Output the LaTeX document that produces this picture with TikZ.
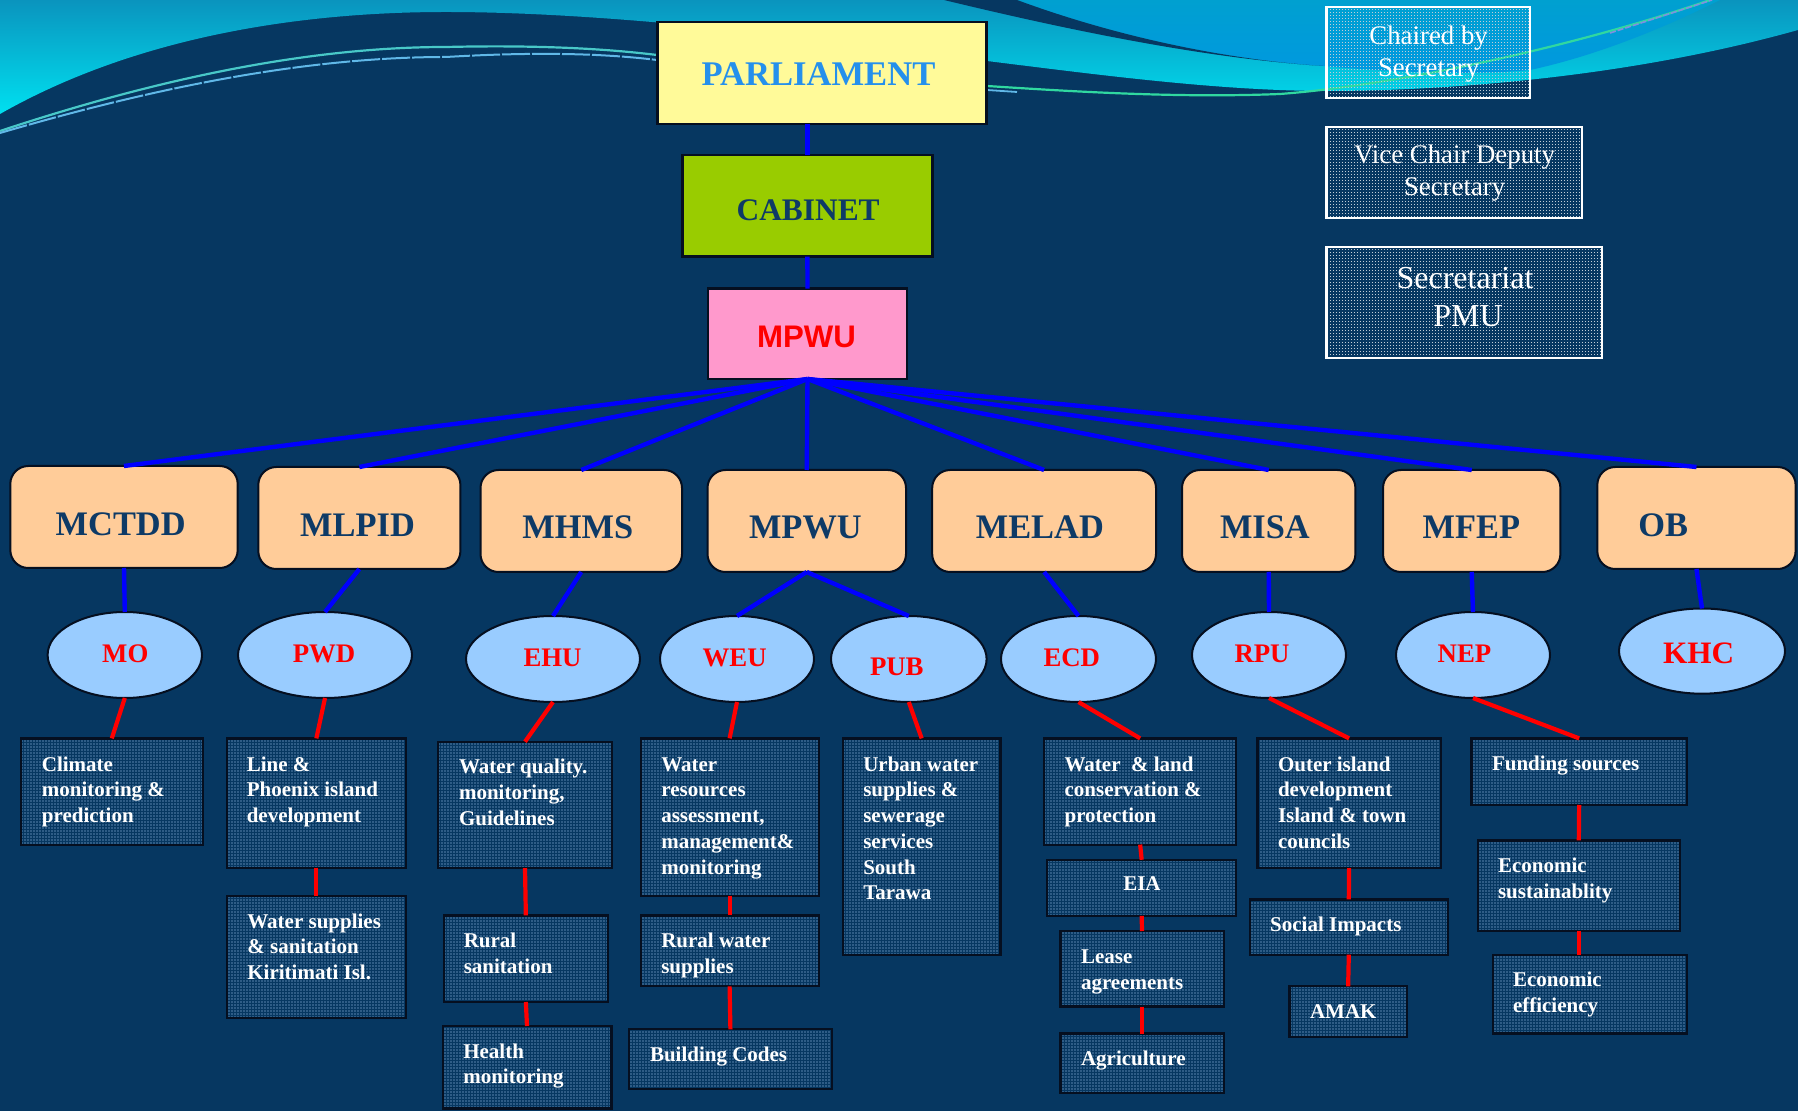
\documentclass[tikz,border=0pt]{standalone}
\usepackage{fontspec}
\setmainfont{Liberation Serif}
\newfontfamily\arialfont{Liberation Sans}
\usetikzlibrary{shapes.geometric,patterns}
\definecolor{bgnavy}{HTML}{063761}
\definecolor{inknavy}{HTML}{0E3A66}
\definecolor{edgedark}{HTML}{050F20}
\definecolor{dotcol}{HTML}{2E5C86}
\definecolor{parlblue}{HTML}{2590EC}
\definecolor{limeg}{HTML}{99CC00}
\definecolor{pinkb}{HTML}{FF99CC}
\definecolor{peach}{HTML}{FFCC99}
\definecolor{skyb}{HTML}{99CCFF}
\definecolor{leftTop}{HTML}{0A94BE}
\definecolor{leftBot}{HTML}{00E0F0}
\definecolor{blueTop}{HTML}{00A0D0}
\definecolor{blueBot}{HTML}{0098E0}
\definecolor{teal1}{HTML}{48C8C8}
\definecolor{sky1}{HTML}{60B8E8}
\definecolor{green1}{HTML}{30D8A0}
\definecolor{lav1}{HTML}{8090E0}
\pgfdeclarepatternformonly{finedots}{\pgfqpoint{-0.05pt}{-0.05pt}}{\pgfqpoint{1.5pt}{1.5pt}}{\pgfqpoint{1.5pt}{1.5pt}}{%
  \pgfpathrectangle{\pgfqpoint{0.2pt}{0.2pt}}{\pgfqpoint{0.55pt}{0.55pt}}\pgfusepath{fill}}
\pgfdeclarepatternformonly{chairdots}{\pgfqpoint{-0.05pt}{-0.05pt}}{\pgfqpoint{1.5pt}{1.5pt}}{\pgfqpoint{1.5pt}{1.5pt}}{%
  \pgfpathrectangle{\pgfqpoint{0.3pt}{0.3pt}}{\pgfqpoint{0.3pt}{0.3pt}}\pgfusepath{fill}}
\newcommand{\fs}[2]{\fontsize{#1}{#2}\selectfont}
% [style]{name}{x1}{y1}{x2}{y2}{text left x}{first baseline y}{text}
\newcommand{\nd}[9][]{%
  \pgfmathsetmacro\ndcx{(#3+#5)/2}\pgfmathsetmacro\ndcy{(#4+#6)/2}%
  \pgfmathsetmacro\ndw{(#5-#3)*0.5}\pgfmathsetmacro\ndh{(#6-#4)*0.5}%
  \pgfmathsetmacro\nddx{(#7-\ndcx)*0.5}\pgfmathsetmacro\nddy{(#8-\ndcy)*0.5}%
  \node[#1,minimum width=\ndw pt,minimum height=\ndh pt] (#2) at (\ndcx,\ndcy)
    {\hbox to 0pt{\hskip\nddx pt\raisebox{-\nddy pt}[0pt][0pt]{\parbox[t]{300pt}{\raggedright #9}}\hss}};%
}
\tikzset{
  base/.style={inner sep=0pt,outer sep=0pt},
  topbox/.style={base,rectangle,draw=edgedark,line width=1.2pt},
  parlbox/.style={topbox,fill=yellow!40!white,text=parlblue,font=\bfseries\fs{17.3}{20}},
  cabbox/.style={topbox,fill=limeg,text=inknavy,font=\bfseries\fs{15.7}{20}},
  mpwubox/.style={topbox,fill=pinkb,text=red,font=\arialfont\bfseries\fs{15.6}{20}},
  legend/.style={base,rectangle,draw=white,line width=1.1pt,pattern=chairdots,pattern color=white!75!bgnavy,text=white},
  minbox/.style={base,rectangle,rounded corners=9pt,draw=edgedark,line width=1pt,fill=peach,text=inknavy,font=\bfseries\fs{17.2}{20}},
  unit/.style={base,ellipse,draw=edgedark,line width=1pt,fill=skyb,text=red,font=\bfseries\fs{13.4}{16}},
  task/.style={base,rectangle,draw=edgedark,line width=1.1pt,pattern=finedots,pattern color=dotcol,text=white,font=\bfseries\fs{10.5}{12.85}},
  blueline/.style={line width=2.2pt,draw=blue},
  redline/.style={line width=2.1pt,draw=red}
}
\begin{document}
\begin{tikzpicture}[x=0.5pt,y=-0.5pt]
\useasboundingbox (0,0) rectangle (1798,1111);
\fill[bgnavy] (0,0) rectangle (1798,1111);
% waves
\shade[top color=leftTop,bottom color=leftBot] (0,114) .. controls (130,40) and (290,12) .. (446,12)
  .. controls (600,12) and (800,35) .. (987,61)
  .. controls (1100,75) and (1220,91) .. (1328,91)
  .. controls (1430,91) and (1620,80) .. (1798,30) -- (1798,0) -- (0,0) -- cycle;
\shade[top color=blueTop,bottom color=blueBot] (1017,0) .. controls (1120,38) and (1230,60) .. (1323,66)
  .. controls (1400,73) and (1480,75) .. (1530,70) .. controls (1600,55) and (1670,25) .. (1720,0) -- cycle;
\fill[bgnavy] (944,0) .. controls (1060,28) and (1200,58) .. (1323,66) .. controls (1230,60) and (1120,38) .. (1017,0) -- cycle;
% thin swoosh lines
\draw[line width=1.1pt,color=teal1] (0,131) .. controls (130,88) and (290,47) .. (446,47) .. controls (530,45) and (600,48) .. (657,55);
\draw[line width=1pt,color=sky1,dash pattern=on 14pt off 1pt] (0,133) .. controls (130,95) and (290,57) .. (446,57) .. controls (530,52) and (600,53) .. (657,60);
\draw[line width=1.1pt,color=green1] (987,86) .. controls (1080,92) and (1180,98) .. (1280,94) .. controls (1400,85) and (1580,45) .. (1710,0);
\draw[line width=.9pt,color=sky1] (987,90) -- (1017,92);
\draw[line width=.8pt,color=lav1,dash pattern=on 3pt off 1pt] (1610,33) -- (1712,0);
% top chain
\nd[parlbox]{parl}{657.5}{22.3}{986.6}{124}{701.5}{86}{PARLIAMENT}
\nd[cabbox]{cab}{682.4}{155}{932.4}{256.7}{736.6}{221}{CABINET}
\nd[mpwubox]{mpwutop}{708}{288.7}{907}{379}{757}{348}{MPWU}
% legend
\nd[legend,font=\fs{13.4}{16}]{chair}{1326.4}{6.7}{1530.3}{98.3}{1428.6}{44.3}{\makebox[0pt]{Chaired by}\\\makebox[0pt]{Secretary}}
\nd[legend,font=\fs{13.4}{16}]{vice}{1326.4}{126.7}{1582}{218.3}{1454.6}{164}{\makebox[0pt]{Vice Chair Deputy}\\\makebox[0pt]{Secretary}}
\nd[legend,font=\fs{16}{19}]{secr}{1326.4}{246.7}{1602}{358.3}{1465}{288.7}{\makebox[0pt]{Secretariat}\\\makebox[0pt]{\hspace{3pt}PMU}}
% ministries
\nd[minbox]{mctdd}{10.3}{466}{237.7}{568}{55.7}{535.6}{MCTDD}
\nd[minbox]{mlpid}{258.3}{467}{460.4}{569}{300.2}{536.4}{MLPID}
\nd[minbox]{mhms}{480.5}{470}{682}{572}{522.4}{539}{MHMS}
\nd[minbox]{mpwu}{707.5}{470}{906}{572}{749}{539}{MPWU}
\nd[minbox]{melad}{932.2}{470}{1156}{572}{975.8}{539}{MELAD}
\nd[minbox]{misa}{1182}{470}{1355.4}{572}{1220}{539}{MISA}
\nd[minbox]{mfep}{1383}{470}{1560.4}{572}{1422.6}{539}{MFEP}
\nd[minbox]{ob}{1597.3}{467}{1795.6}{569}{1638.4}{536.4}{OB}
% units
\nd[unit]{mo}{47.6}{612}{202}{698}{102.2}{663}{MO}
\nd[unit]{pwd}{238}{612}{412}{698}{292.8}{663}{PWD}
\nd[unit]{ehu}{466}{616}{640}{702}{523.5}{666.7}{EHU}
\nd[unit]{weu}{660}{616}{814}{702}{702.6}{666.7}{WEU}
\nd[unit]{pub}{831}{616}{986.6}{702}{870}{676}{PUB}
\nd[unit]{ecd}{1001}{616}{1156}{702}{1043.5}{666.7}{ECD}
\nd[unit]{rpu}{1192}{612}{1346}{698}{1234.5}{663}{RPU}
\nd[unit]{nep}{1396}{612}{1550}{698}{1437.7}{663}{NEP}
\nd[unit,font=\bfseries\fs{15.6}{18}]{khc}{1619}{608.5}{1785}{693.7}{1663}{663.3}{KHC}
% tasks
\nd[task]{climate}{21}{738.4}{202.6}{844.6}{41.9}{771.2}{Climate\\monitoring \&\\prediction}
\nd[task]{line}{226.8}{738.4}{405.9}{868.2}{246.8}{771.2}{Line \&\\Phoenix island\\development}
\nd[task]{wsup}{226.8}{895.6}{405.9}{1018.3}{247.4}{928}{Water supplies\\\& sanitation\\Kiritimati Isl.}
\nd[task]{wq}{438}{741.7}{612}{868.2}{459}{773.8}{Water quality.\\monitoring,\\Guidelines}
\nd[task]{rsan}{443.7}{915.4}{608}{1002}{463.8}{947.5}{Rural\\sanitation}
\nd[task]{health}{442.6}{1026}{611.4}{1108.5}{463.3}{1058}{Health\\monitoring}
\nd[task]{wres}{640.6}{738.4}{818.6}{895.6}{661.3}{771.2}{Water\\resources\\assessment,\\management\&\\monitoring}
\nd[task]{rwat}{640.6}{915.4}{818.6}{986.3}{661.3}{947.5}{Rural water\\supplies}
\nd[task]{bcode}{629}{1029.3}{831.8}{1088.7}{650}{1061.3}{Building Codes}
\nd[task]{urban}{842.8}{738.4}{1000.5}{954.6}{863.3}{771.2}{Urban water\\supplies \&\\sewerage\\services\\South\\Tarawa}
\nd[task]{wland}{1044}{738.4}{1236.3}{844.6}{1064.6}{771.2}{Water~ \& land\\conservation \&\\protection}
\nd[task]{eia}{1047}{859.8}{1236.3}{915.8}{1123.3}{890.5}{EIA}
\nd[task]{lease}{1060.4}{931}{1223.6}{1006.5}{1081}{963.5}{Lease\\agreements}
\nd[task]{agri}{1060.4}{1033.5}{1223.6}{1093.3}{1081}{1065.5}{Agriculture}
\nd[task]{outer}{1257.5}{738.4}{1440.7}{868.2}{1278}{771.2}{Outer island\\development\\Island \& town\\councils}
\nd[task]{social}{1249.6}{899.4}{1448}{954.6}{1270.2}{931.4}{Social Impacts}
\nd[task]{amak}{1289.5}{986.3}{1406.8}{1037.3}{1310}{1018.3}{AMAK}
\nd[task]{fund}{1471.5}{738.4}{1686.8}{805}{1492}{770.8}{Funding sources}
\nd[task]{ecs}{1477.6}{840.4}{1680}{931}{1498}{872.8}{Economic\\sustainablity}
\nd[task]{ece}{1492.7}{954.6}{1686.8}{1033.5}{1513}{986.7}{Economic\\efficiency}
% blue connectors
\draw[blueline] (cab.north |- parl.south) -- (cab.north);
\draw[blueline] (cab.south) -- (mpwutop.north);
\foreach \m in {mctdd,mlpid,mhms,mpwu,melad,misa,mfep,ob}{\draw[blueline] (mpwutop.south) -- (\m.north);}
\draw[blueline] (mctdd.south) -- (mo.north);
\draw[blueline] (mlpid.south) -- (pwd.north);
\draw[blueline] (mhms.south) -- (ehu.north);
\draw[blueline] (mpwu.south) -- (weu.north);
\draw[blueline] (mpwu.south) -- (pub.north);
\draw[blueline] (melad.south) -- (ecd.north);
\draw[blueline] (misa.south) -- (rpu.north);
\draw[blueline] (mfep.south) -- (nep.north);
\draw[blueline] (ob.south) -- (khc.north);
% red connectors
\draw[redline] (mo.south) -- (climate.north);
\draw[redline] (pwd.south) -- (line.north);
\draw[redline] (ehu.south) -- (wq.north);
\draw[redline] (weu.south) -- (wres.north);
\draw[redline] (pub.south) -- (urban.north);
\draw[redline] (ecd.south) -- (wland.north);
\draw[redline] (rpu.south) -- (outer.north);
\draw[redline] (nep.south) -- (fund.north);
\draw[redline] (line.south) -- (wsup.north);
\draw[redline] (wq.south) -- (rsan.north);
\draw[redline] (rsan.south) -- (health.north);
\draw[redline] (wres.south) -- (rwat.north);
\draw[redline] (rwat.south) -- (bcode.north);
\draw[redline] (wland.south) -- (eia.north);
\draw[redline] (eia.south) -- (lease.north);
\draw[redline] (lease.south) -- (agri.north);
\draw[redline] (outer.south) -- (social.north);
\draw[redline] (social.south) -- (amak.north);
\draw[redline] (fund.south) -- (ecs.north);
\draw[redline] (ecs.south) -- (ecs.south |- ece.north);
\end{tikzpicture}
\end{document}
